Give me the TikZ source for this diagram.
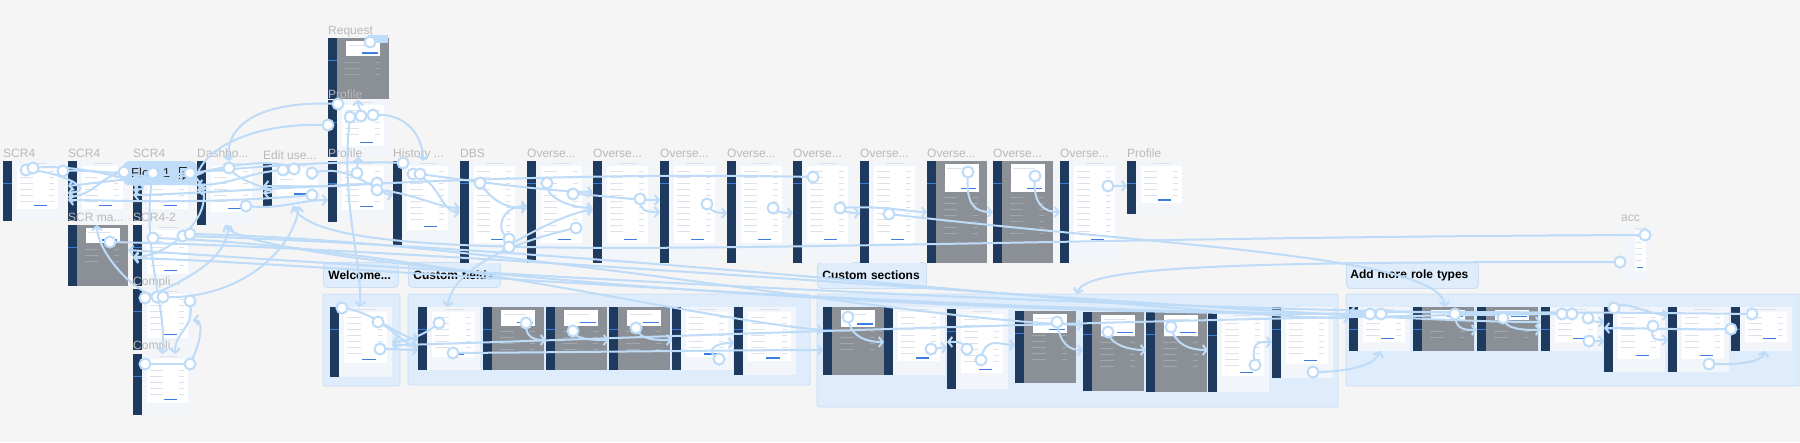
\documentclass[tikz,border=0pt]{standalone}
\usepackage{fontspec}
\setmainfont{Liberation Sans}
\usetikzlibrary{arrows.meta,calc}
\definecolor{bg}{HTML}{F5F5F5}
\definecolor{navy}{HTML}{1F3A5F}
\definecolor{navyhl}{HTML}{3B7BD8}
\definecolor{cont}{HTML}{F2F5F9}
\definecolor{rowc}{HTML}{DEE2E8}
\definecolor{grayc}{HTML}{8B9097}
\definecolor{grayrow}{HTML}{A2A7AD}
\definecolor{btn}{HTML}{3C7DE0}
\definecolor{conc}{HTML}{BEDBF8}
\definecolor{secfill}{HTML}{DFECFB}
\definecolor{secdraw}{HTML}{C9DDF3}
\definecolor{lblc}{HTML}{B9B9B9}
\definecolor{chipc}{HTML}{BFDCF9}
\tikzset{
 frm/.style={draw=none,inner sep=0,outer sep=0,rectangle},
 lbl/.style={text=lblc,font=\fontsize{12}{12}\selectfont,inner sep=0,anchor=base west},
 sec/.style={fill=secfill,draw=secdraw,line width=0.8pt,rounded corners=1.5pt},
 seclbl/.style={fill=secfill,draw=secdraw,line width=0.8pt,rounded corners=4pt,
   font=\bfseries\fontsize{12}{12}\selectfont,text=black,inner xsep=5pt,inner ysep=0,
   anchor=north west,align=left},
 con/.style={draw=conc,line width=2pt,-{Straight Barb[length=4pt,width=10pt]}},
 hot/.style={circle,draw=conc,fill=white,line width=2pt,minimum size=11pt,inner sep=0},
}
\newcommand\frm[6]{%
 \begin{scope}[shift={(#2,#3)}]
 \pgfmathsetmacro\fw{#4}\pgfmathsetmacro\fh{#5}%
 \pgfmathsetmacro\cb{#5*0.8}\pgfmathsetmacro\re{#5*0.8-7}%
 \pgfmathsetmacro\half{#4*0.5}\pgfmathsetmacro\vr{#4-14}%
 \node[frm,minimum width=#4pt,minimum height=#5pt,anchor=north west] (#1) at (0,0) {};
 \if g#6
   \fill[grayc] (0,0) rectangle (\fw,\fh);
   \foreach \yy in {24,30,...,\re} {\draw[grayrow,line width=0.5pt] (17,\yy) -- (\half,\yy);
      \draw[grayrow,line width=0.5pt] (\vr,\yy) -- (\fw-9,\yy);}
   \fill[white] (\fw*0.3,3) rectangle (\fw*0.86,\fh*0.3);
   \draw[rowc,line width=0.5pt] (\fw*0.34,7) -- (\fw*0.7,7);
   \fill[btn] (\fw*0.56,\fh*0.3-4) rectangle (\fw*0.82,\fh*0.3-2.8);
 \else
   \fill[cont] (0,0) rectangle (\fw,\fh);
   \fill[white] (14,5) rectangle (\fw-5,\cb);
   \draw[rowc,line width=0.5pt] (26,2.5) -- (\fw-16,2.5);
   \foreach \yy in {10,16,...,\re} {\draw[rowc,line width=0.5pt] (17,\yy) -- (\half,\yy);
      \draw[rowc,line width=0.5pt] (\vr,\yy) -- (\fw-9,\yy);}
   \fill[btn] (\fw*0.52,\cb-4) rectangle (\fw*0.74,\cb-2.8);
 \fi
 \if n#6\else
   \fill[navy] (0,0) rectangle (9,\fh);
   \fill[navyhl] (0,22) rectangle (9,23.3);
 \fi
 \end{scope}}
\begin{document}
\begin{tikzpicture}[x=1pt,y=-1pt]
\useasboundingbox (0,0) rectangle (1800,442);
\fill[bg] (0,0) rectangle (1800,442);
% sections
\draw[sec] (323,294) rectangle (400,386);
\draw[sec] (408,294) rectangle (810,385);
\draw[sec] (817,294) rectangle (1338,407);
\draw[sec] (1346,294) rectangle (1799,386);
\node[seclbl,minimum width=75pt,minimum height=25pt,text width=65pt] (sl1) at (323,262) {Welcome...};
\node[seclbl,minimum width=92pt,minimum height=25pt,text width=82pt] (sl2) at (408,262) {Custom fields};
\node[seclbl,minimum width=109pt,minimum height=26pt,text width=99pt] (sl3) at (817,262) {Custom sections};
\node[seclbl,minimum width=128pt,minimum height=26pt,inner xsep=4pt,text width=124pt] (sl4) at (1346,262) {Add more role types};
% frames top row
\frm{s1}{3}{161}{60}{60}{w}
\frm{s2}{68}{161}{60}{60}{w}
\frm{s3}{133}{161}{60}{60}{w}
\frm{dash}{197}{161}{60}{64}{w}
\frm{edit}{263}{163}{60}{43}{w}
\frm{req}{328}{38}{61}{61}{g}
\frm{pro1}{328}{100}{61}{57}{w}
\frm{pro2}{328}{161}{61}{61}{w}
\frm{hist}{393}{161}{60}{86}{w}
\frm{dbs}{460}{161}{60}{102}{w}
\frm{ov1}{527}{161}{60}{102}{w}
\frm{ov2}{593}{161}{60}{102}{w}
\frm{ov3}{660}{161}{60}{102}{w}
\frm{ov4}{727}{161}{60}{102}{w}
\frm{ov5}{793}{161}{60}{102}{w}
\frm{ov6}{860}{161}{60}{102}{w}
\frm{ov7}{927}{161}{60}{102}{g}
\frm{ov8}{993}{161}{60}{102}{g}
\frm{ov9}{1060}{161}{60}{102}{w}
\frm{prof}{1127}{161}{60}{53}{w}
\frm{acc}{1621}{226}{30}{56}{n}
% left column
\frm{scrma}{68}{225}{60}{61}{g}
\frm{scr42}{133}{225}{60}{61}{w}
\frm{comp1}{133}{289}{60}{61}{w}
\frm{comp2}{133}{354}{60}{61}{w}
% bottom
\frm{w1}{330}{307}{62}{70}{w}
\frm{cf1}{418}{307}{62}{63}{w}
\frm{cf2}{483}{307}{61}{63}{g}
\frm{cf3}{546}{307}{61}{63}{g}
\frm{cf4}{609}{307}{61}{63}{g}
\frm{cf5}{672}{307}{61}{63}{w}
\frm{cf6}{734}{307}{62}{68}{w}
\frm{cs1}{823}{307}{61}{68}{g}
\frm{cs2}{884}{307}{61}{68}{w}
\frm{cs3}{947}{309}{61}{80}{w}
\frm{cs4}{1015}{311}{61}{72}{g}
\frm{cs5}{1083}{312}{61}{79}{g}
\frm{cs6}{1146}{312}{61}{80}{g}
\frm{cs7}{1208}{313}{61}{79}{w}
\frm{cs8}{1272}{307}{61}{71}{w}
\frm{ar1}{1349}{307}{61}{44}{w}
\frm{ar2}{1413}{307}{61}{44}{g}
\frm{ar3}{1477}{307}{61}{44}{g}
\frm{ar4}{1541}{307}{61}{44}{w}
\frm{ar5}{1604}{307}{61}{65}{w}
\frm{ar6}{1668}{307}{61}{65}{w}
\frm{ar7}{1731}{307}{61}{44}{w}
% labels
\node[lbl] (l1) at (3,157) {SCR4};
\node[lbl] (l2) at (68,157) {SCR4};
\node[lbl] (l3) at (133,157) {SCR4};
\node[lbl] (l4) at (197,157) {Dashbo...};
\node[lbl] (l5) at (263,159) {Edit use...};
\node[lbl] (l6) at (328,34) {Request};
\node[lbl] (l7) at (328,98) {Profile};
\node[lbl] (l8) at (328,157) {Profile};
\node[lbl] (l9) at (393,157) {History ...};
\node[lbl] (l10) at (460,157) {DBS};
\node[lbl] (l11) at (527,157) {Overse...};
\node[lbl] (l12) at (593,157) {Overse...};
\node[lbl] (l13) at (660,157) {Overse...};
\node[lbl] (l14) at (727,157) {Overse...};
\node[lbl] (l15) at (793,157) {Overse...};
\node[lbl] (l16) at (860,157) {Overse...};
\node[lbl] (l17) at (927,157) {Overse...};
\node[lbl] (l18) at (993,157) {Overse...};
\node[lbl] (l19) at (1060,157) {Overse...};
\node[lbl] (l20) at (1127,157) {Profile};
\node[lbl] (l21) at (1621,221) {acc};
\node[lbl] (l22) at (68,221) {SCR ma...};
\node[lbl] (l23) at (133,221) {SCR4-2};
\node[lbl] (l24) at (133,285) {Compli...};
\node[lbl] (l25) at (133,349) {Compli...};
% flow chip
\node[fill=chipc,rounded corners=6pt,minimum width=74pt,minimum height=24pt,anchor=north west,
  inner xsep=8pt,text width=58pt,align=left,font=\fontsize{13}{13}\selectfont,text=black!85] (chip) at (123,161) {Flow 1};
\draw[black!85,line width=1.1pt] (187,167.5) -- (179.5,167.5) -- (179.5,179);
\draw[black!85,line width=1pt] (183,172) -- (183,179) -- (188,175.5) -- cycle;
\fill[conc] (368,35) rectangle (388,43);
% hotspots
\coordinate (h1) at (26,170);  \coordinate (h2) at (33,168);  \coordinate (h3) at (63,171);
\coordinate (h4) at (124,172); \coordinate (h5) at (153,173); \coordinate (h6) at (190,173);
\coordinate (h7) at (229,168); \coordinate (h8) at (246,206); \coordinate (h9) at (283,170);
\coordinate (h10) at (294,169); \coordinate (h11) at (312,173); \coordinate (h12) at (312,195);
\coordinate (h13) at (370,42); \coordinate (h14) at (338,104); \coordinate (h15) at (328,125);
\coordinate (h16) at (350,117); \coordinate (h17) at (361,116); \coordinate (h18) at (373,115);
\coordinate (h19) at (357,173); \coordinate (h20) at (377,183); \coordinate (h21) at (377,190);
\coordinate (h22) at (403,163); \coordinate (h23) at (413,174); \coordinate (h24) at (420,174);
\coordinate (h25) at (480,183); \coordinate (h26) at (509,239); \coordinate (h27) at (509,247);
\coordinate (h28) at (547,183); \coordinate (h29) at (573,194); \coordinate (h30) at (576,228);
\coordinate (h31) at (640,199); \coordinate (h32) at (707,204); \coordinate (h33) at (773,208);
\coordinate (h34) at (813,177); \coordinate (h35) at (840,208); \coordinate (h36) at (889,214);
\coordinate (h37) at (968,172); \coordinate (h38) at (1035,176); \coordinate (h39) at (1108,186);
\coordinate (h40) at (1645,235); \coordinate (h41) at (1620,262); \coordinate (h42) at (110,242);
\coordinate (h43) at (153,238); \coordinate (h44) at (183,236); \coordinate (h45) at (190,234);
\coordinate (h46) at (145,298); \coordinate (h47) at (157,297); \coordinate (h48) at (163,297);
\coordinate (h49) at (190,301); \coordinate (h50) at (145,364); \coordinate (h51) at (190,364);
\coordinate (h52) at (342,308); \coordinate (h53) at (378,322); \coordinate (h54) at (380,349);
\coordinate (h55) at (439,323); \coordinate (h56) at (453,353); \coordinate (h57) at (526,323);
\coordinate (h58) at (573,331); \coordinate (h59) at (636,328); \coordinate (h60) at (719,359);
\coordinate (h61) at (848,317); \coordinate (h62) at (931,349); \coordinate (h63) at (967,349);
\coordinate (h64) at (981,360); \coordinate (h65) at (1057,322); \coordinate (h66) at (1108,332);
\coordinate (h67) at (1171,327); \coordinate (h68) at (1255,365); \coordinate (h69) at (1313,372);
\coordinate (h70) at (1370,314); \coordinate (h71) at (1381,314); \coordinate (h72) at (1455,314);
\coordinate (h73) at (1503,318); \coordinate (h74) at (1562,314); \coordinate (h75) at (1572,314);
\coordinate (h76) at (1588,318); \coordinate (h77) at (1589,341); \coordinate (h78) at (1614,308);
\coordinate (h79) at (1653,326); \coordinate (h80) at (1709,364); \coordinate (h81) at (1731,329);
\coordinate (h82) at (1752,314);
% connectors: top-left tangle
\draw[con] (h1) .. controls (55,170) and (100,190) .. ($(s2.north west)+(0,32)$);
\draw[con] (h2) .. controls (80,162) and (170,188) .. ($(s3.north west)+(0,29)$);
\draw[con] (h3) .. controls (110,168) and (235,188) .. ($(dash.north west)+(0,29)$);
\draw[con] (h4) .. controls (100,176) and (95,195) .. ($(s2.north west)+(0,36)$);
\draw[con] (h5) .. controls (140,250) and (168,310) .. ($(comp2.north west)+(29,0)$);
\draw[con] (h6) .. controls (230,200) and (175,257) .. ($(scr42.north west)+(0,32)$);
\draw[con] (h7) .. controls (240,185) and (290,192) .. ($(edit.north west)+(0,30)$);
\draw[con] (h8) .. controls (280,210) and (300,200) .. ($(pro2.north west)+(0,39)$);
\draw[con] (h9) .. controls (250,172) and (230,185) .. ($(dash.north west)+(0,24)$);
\draw[con] (h10) .. controls (260,150) and (170,183) .. ($(s3.north west)+(0,24)$);
\draw[con] (h11) .. controls (350,162) and (380,195) .. ($(hist.north west)+(0,34)$);
\draw[con] (h12) .. controls (200,205) and (110,200) .. ($(s2.north west)+(0,39)$);
\draw[con] (h14) .. controls (260,100) and (225,125) .. ($(dash.north west)+(32,0)$);
\draw[con] (h15) .. controls (250,122) and (205,150) .. ($(dash.north west)+(0,15)$);
\draw[con] (h16) .. controls (340,200) and (362,260) .. ($(w1.north west)+(30,0)$);
\draw[con] (h17) .. controls (361,110) and (358,106) .. ($(pro1.north west)+(30,0)$);
\draw[con] (h18) .. controls (405,112) and (423,135) .. ($(hist.north west)+(30,0)$);
\draw[con] (h19) .. controls (357,167) and (358,162) .. ($(pro1.south west)+(30,0)$);
\draw[con] (h20) .. controls (330,188) and (300,186) .. ($(edit.north west)+(0,23)$);
\draw[con] (h21) .. controls (410,192) and (440,208) .. ($(dbs.north west)+(0,47)$);
\draw[con] (h22) .. controls (300,158) and (120,180) .. ($(s2.north west)+(0,25)$);
\draw[con] (h23) .. controls (440,180) and (440,212) .. ($(dbs.north west)+(0,51)$);
\draw[con] (h24) .. controls (500,185) and (560,192) .. ($(ov2.north west)+(0,31)$);
\draw[con] (h25) .. controls (495,205) and (510,208) .. ($(ov1.north west)+(0,47)$);
\draw[con] (h26) .. controls (495,232) and (500,206) .. ($(ov1.north west)+(0,45)$);
\draw[con] (h27) .. controls (480,262) and (560,212) .. ($(ov2.north west)+(0,49)$);
\draw[con] (h28) .. controls (545,200) and (575,208) .. ($(ov2.north west)+(0,47)$);
\draw[con] (h29) .. controls (600,195) and (630,200) .. ($(ov3.north west)+(0,39)$);
\draw[con] (h30) .. controls (520,240) and (455,265) .. ($(cf1.north west)+(29,0)$);
\draw[con] (h31) .. controls (640,212) and (648,212) .. ($(ov3.north west)+(0,51)$);
\draw[con] (h32) .. controls (712,213) and (718,213) .. ($(ov4.north west)+(0,52)$);
\draw[con] (h33) .. controls (778,213) and (785,213) .. ($(ov5.north west)+(0,52)$);
\draw[con] (h35) .. controls (845,213) and (852,213) .. ($(ov6.north west)+(0,52)$);
\draw[con] (h35) .. controls (880,205) and (910,212) .. ($(ov7.north west)+(0,51)$);
\draw[con] (h34) .. controls (500,170) and (200,195) .. ($(s3.north west)+(0,34)$);
\draw[con] (h36) .. controls (1150,245) and (1440,255) .. ($(ar2.north west)+(32,0)$);
\draw[con] (h37) .. controls (965,205) and (975,212) .. ($(ov8.north west)+(0,51)$);
\draw[con] (h38) .. controls (1032,205) and (1045,212) .. ($(ov9.north west)+(0,51)$);
\draw[con] (h39) -- ($(prof.north west)+(0,25)$);
% acc lines
\draw[con] (h40) .. controls (800,238) and (330,275) .. ($(edit.south west)+(30,0)$);
\draw[con] (h41) .. controls (1250,262) and (1085,265) .. ($(cs1.north west)+(254,-13)$);
% long lines from left
\draw[con] (h42) .. controls (500,250) and (1300,322) .. ($(ar4.north west)+(0,15)$);
\draw[con] (h43) .. controls (400,245) and (700,320) .. ($(cs1.north west)+(0,23)$);
\draw[con] (h44) .. controls (600,248) and (1200,318) .. ($(ar1.north west)+(0,11)$);
\draw[con] (h45) .. controls (500,240) and (900,320) .. ($(cs5.north west)+(0,13)$);
% compli
\draw[con] (h46) .. controls (175,285) and (228,262) .. ($(dash.south west)+(31,0)$);
\draw[con] (h48) .. controls (240,300) and (293,250) .. ($(edit.south west)+(36,0)$);
\draw[con] (h49) .. controls (195,330) and (175,330) .. ($(comp2.north west)+(42,0)$);
\draw[con] (h47) .. controls (130,290) and (97,250) .. ($(scrma.north west)+(29,0)$);
\draw[con] (h51) .. controls (200,345) and (205,320) .. ($(comp1.north east)+(0,31)$);
\draw[con] (h50) -- ($(comp2.north east)+(0,10)$);
% bottom: welcome / custom fields
\draw[con] (h52) .. controls (370,310) and (395,335) .. ($(cf1.north west)+(0,33)$);
\draw[con] (h53) .. controls (395,330) and (405,346) .. ($(cf1.north west)+(0,39)$);
\draw[con] (h54) .. controls (395,349) and (405,350) .. ($(cf1.north west)+(0,43)$);
\draw[con] (h55) .. controls (425,335) and (405,342) .. ($(w1.north east)+(0,35)$);
\draw[con] (h56) .. controls (600,352) and (750,350) .. ($(cs1.north west)+(0,43)$);
\draw[con] (h57) .. controls (525,338) and (535,340) .. ($(cf3.north west)+(0,33)$);
\draw[con] (h58) .. controls (575,340) and (595,340) .. ($(cf4.north west)+(0,33)$);
\draw[con] (h59) .. controls (640,340) and (655,340) .. ($(cf5.north west)+(0,33)$);
\draw[con] (h60) .. controls (705,352) and (712,343) .. ($(cf6.north west)+(0,36)$);
% custom sections
\draw[con] (h61) .. controls (850,338) and (868,342) .. ($(cs2.north west)+(0,35)$);
\draw[con] (h62) -- ($(cs3.north west)+(0,38)$);
\draw[con] (h63) .. controls (962,340) and (955,342) .. ($(cs3.north west)+(0,33)$);
\draw[con] (h64) .. controls (985,335) and (1000,345) .. ($(cs4.north west)+(0,34)$);
\draw[con] (h65) .. controls (1060,345) and (1070,350) .. ($(cs5.north west)+(0,38)$);
\draw[con] (h66) .. controls (1110,345) and (1130,350) .. ($(cs6.north west)+(0,38)$);
\draw[con] (h67) .. controls (1175,345) and (1190,350) .. ($(cs7.north west)+(0,37)$);
\draw[con] (h68) .. controls (1250,340) and (1260,342) .. ($(cs8.north west)+(0,35)$);
\draw[con] (h69) .. controls (1350,372) and (1375,365) .. ($(ar1.south west)+(31,0)$);
% add more role types
\draw[con] (h70) .. controls (900,312) and (300,262) .. ($(scr42.north west)+(0,33)$);
\draw[con] (h71) .. controls (900,316) and (250,265) .. ($(dash.south west)+(28,0)$);
\draw[con] (h74) .. controls (1100,318) and (450,345) .. ($(w1.north east)+(0,38)$);
\draw[con] (h75) .. controls (1000,310) and (200,255) .. ($(scrma.north east)+(0,25)$);
\draw[con] (h72) .. controls (1455,330) and (1465,330) .. ($(ar3.north west)+(0,23)$);
\draw[con] (h73) .. controls (1505,330) and (1525,330) .. ($(ar4.north west)+(0,23)$);
\draw[con] (h76) .. controls (1592,322) and (1598,322) .. ($(ar5.north west)+(0,15)$);
\draw[con] (h77) -- ($(ar5.north west)+(0,34)$);
\draw[con] (h78) .. controls (1620,298) and (1650,315) .. ($(ar6.north west)+(0,8)$);
\draw[con] (h79) .. controls (1650,340) and (1655,340) .. ($(ar6.north west)+(0,33)$);
\draw[con] (h80) .. controls (1740,365) and (1762,362) .. ($(ar7.south west)+(34,0)$);
\draw[con] (h81) .. controls (1690,330) and (1640,328) .. ($(ar5.north west)+(0,21)$);
\draw[con] (h82) .. controls (1600,312) and (1420,312) .. ($(ar1.north west)+(0,5)$);
% hotspot circles
\foreach \i in {1,...,82} \node[hot] (c\i) at (h\i) {};
\end{tikzpicture}
\end{document}
